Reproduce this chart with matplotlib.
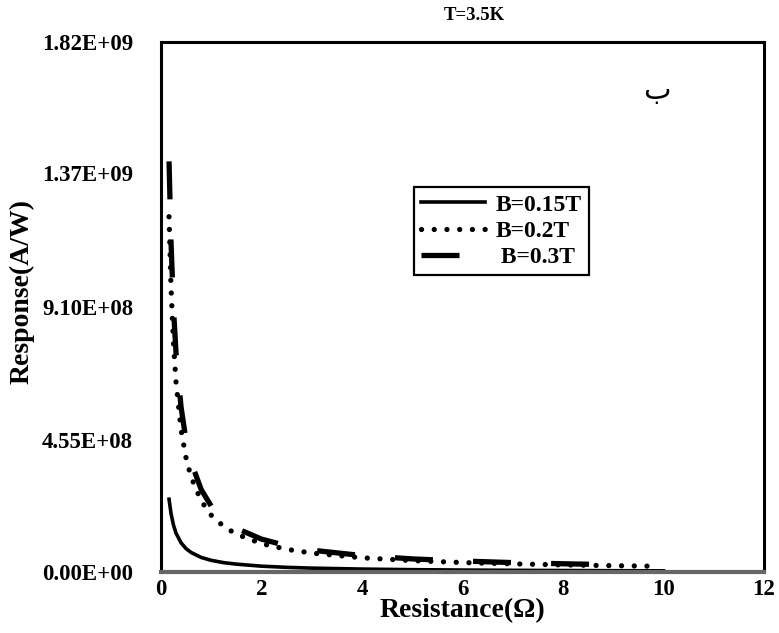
import numpy as np
import matplotlib
matplotlib.use("Agg")
import matplotlib.pyplot as plt

# values
r_grid = [0.16, 0.2, 0.25, 0.3, 0.4, 0.5, 0.6, 0.8, 1.0, 1.25, 1.5, 2, 2.5, 3, 4, 5, 6, 7, 8, 9, 10]
resp_015 = [2.5e8, 2.0e8, 1.6e8, 1.33e8, 1.0e8, 8.0e7, 6.7e7, 5.0e7, 4.0e7, 3.2e7, 2.7e7,
            2.0e7, 1.6e7, 1.33e7, 1.0e7, 8.0e6, 6.7e6, 5.7e6, 5.0e6, 4.4e6, 4.0e6]

r_grid_02 = [0.16, 0.2, 0.25, 0.3, 0.4, 0.5, 0.6, 0.8, 1.0, 1.25, 1.5, 2, 2.5, 3, 4, 5, 6, 7, 8, 9, 9.8]
resp_02 = [1.22e9, 9.75e8, 7.8e8, 6.5e8, 4.88e8, 3.9e8, 3.25e8, 2.44e8, 1.95e8, 1.56e8, 1.3e8,
           9.75e7, 7.8e7, 6.5e7, 4.88e7, 3.9e7, 3.25e7, 2.79e7, 2.44e7, 2.17e7, 1.99e7]

r_grid_03 = [0.16, 0.2, 0.25, 0.3, 0.4, 0.5, 0.6, 0.8, 1.0, 1.25, 1.5, 2, 2.5, 3, 4, 5, 6, 7, 8, 9, 9.2]
resp_03 = [1.41e9, 1.13e9, 9.0e8, 7.5e8, 5.65e8, 4.5e8, 3.77e8, 2.83e8, 2.26e8, 1.81e8, 1.5e8,
           1.13e8, 9.0e7, 7.5e7, 5.65e7, 4.5e7, 3.77e7, 3.23e7, 2.83e7, 2.5e7, 2.45e7]

y_ticks = [0, 4.55e8, 9.10e8, 1.37e9, 1.82e9]
y_tick_labels = ["0.00E+00", "4.55E+08", "9.10E+08", "1.37E+09", "1.82E+09"]
x_ticks = [0, 2, 4, 6, 8, 10, 12]

serif = ["Liberation Serif", "DejaVu Serif"]

fig = plt.figure(figsize=(7.79, 6.33), dpi=100)
ax = fig.add_axes([161 / 779, 1 - 572 / 633, 603 / 779, 530 / 633])

ax.plot(r_grid, resp_015, color="black", lw=2.6, label="B=0.15T")
ax.plot(r_grid_02, resp_02, color="black", lw=3.8, linestyle=(0, (0.01, 2.4)),
        dash_capstyle="round", label="B=0.2T")
ax.plot(r_grid_03, resp_03, color="black", lw=3.8, linestyle=(0, (7.2, 7.6)),
        dash_capstyle="butt", label=" B=0.3T")

ax.set_xlim(0, 12)
ax.set_ylim(0, 1.82e9)
ax.set_xticks(x_ticks)
ax.set_yticks(y_ticks)
ax.set_yticklabels(y_tick_labels)
ax.tick_params(length=0, labelsize=16.5)
ax.tick_params(axis="y", pad=20)
ax.tick_params(axis="x", pad=5)
for lab in ax.get_xticklabels() + ax.get_yticklabels():
    lab.set_family(serif)
    lab.set_fontweight("bold")

for s in ["left", "right", "top"]:
    ax.spines[s].set_linewidth(2.2)
    ax.spines[s].set_color("black")
ax.spines["bottom"].set_linewidth(3)
ax.spines["bottom"].set_color("#666666")

ax.set_xlabel("Resistance(Ω)", family=serif, fontweight="bold", fontsize=20)
ax.xaxis.set_label_coords(0.5, -0.05)
ax.set_ylabel("Response(A/W)", family=serif, fontweight="bold", fontsize=20)
ax.yaxis.set_label_coords(-0.21, 0.53)

fig.text(474 / 779, 1 - 16 / 633, "T=3.5K", family=serif, fontweight="bold",
         fontsize=13.5, ha="center", va="center")
ax.text(0.822, 0.905, "ب", transform=ax.transAxes, family=["Liberation Serif", "DejaVu Sans"],
        fontsize=21, ha="center", va="center")

leg = ax.legend(loc="upper left", bbox_to_anchor=(414 / 779, 1 - 187 / 633),
                bbox_transform=fig.transFigure, borderaxespad=0, fancybox=False,
                framealpha=1, edgecolor="black", handlelength=2.7, handletextpad=0.45,
                labelspacing=0.2, borderpad=0.3,
                prop={"family": serif, "weight": "bold", "size": 17})
leg.get_frame().set_linewidth(1.6)

fig.savefig("out.png", dpi=100)
